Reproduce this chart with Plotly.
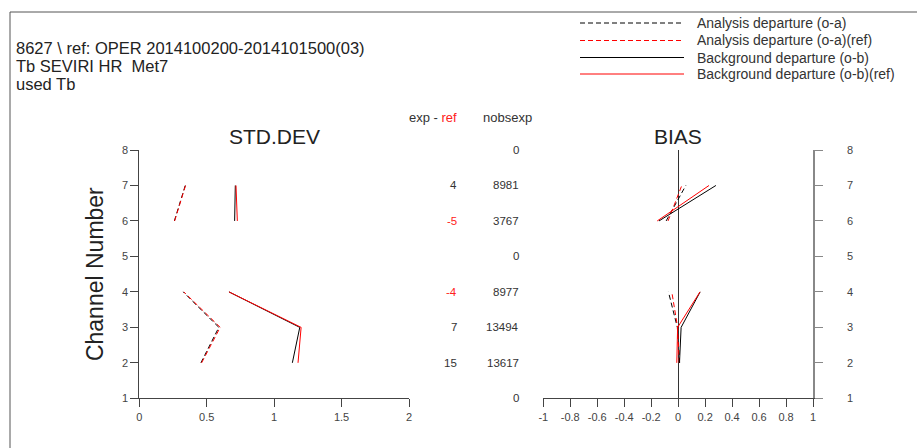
import plotly.graph_objects as go

W, H = 917, 448

channels = [2, 3, 4, 5, 6, 7]
std_oa = [0.457, 0.59, 0.326, None, 0.26, 0.341]
std_oa_ref = [0.462, 0.60, 0.33, None, 0.262, 0.343]
std_ob = [1.135, 1.19, 0.665, None, 0.707, 0.712]
std_ob_ref = [1.177, 1.20, 0.665, None, 0.727, 0.717]

bias_oa = [0.011, -0.006, -0.072, None, -0.089, 0.057]
bias_oa_ref = [0.008, -0.004, -0.047, None, -0.075, 0.027]
bias_ob = [0.010, 0.022, 0.163, None, -0.142, 0.28]
bias_ob_ref = [-0.010, -0.004, 0.162, None, -0.155, 0.229]

nob_channels = [8, 7, 6, 5, 4, 3, 2, 1]
nobsexp = ["0", "8981", "3767", "0", "8977", "13494", "13617", "0"]
diff_channels = [7, 6, 4, 3, 2]
exp_minus_ref = [4, -5, -4, 7, 15]

std_ticks = [0, 0.5, 1, 1.5, 2]
std_ticktext = ["0", "0.5", "1", "1.5", "2"]
bias_ticks = [-1, -0.8, -0.6, -0.4, -0.2, 0, 0.2, 0.4, 0.6, 0.8, 1]
bias_ticktext = ["-1", "-0.8", "-0.6", "-0.4", "-0.2", "0", "0.2", "0.4", "0.6", "0.8", "1"]
y_ticks = [1, 2, 3, 4, 5, 6, 7, 8]

legend_names = ["Analysis departure (o-a)", "Analysis departure (o-a)(ref)",
                "Background departure (o-b)", "Background departure (o-b)(ref)"]
legend_colors = ["black", "#ff0000", "black", "#ff0000"]
legend_dash = ["5px,3px", "5px,3px", "solid", "solid"]

FONT = "Liberation Sans, Arial, sans-serif"
AX = "#444444"

def px(x):
    return x / W

def py(y):
    return 1 - y / H

fig = go.Figure()

series = [
    (std_oa, bias_oa, 0),
    (std_oa_ref, bias_oa_ref, 1),
    (std_ob, bias_ob, 2),
    (std_ob_ref, bias_ob_ref, 3),
]
for sd, bi, k in series:
    line = dict(color=legend_colors[k], width=1, dash=legend_dash[k])
    fig.add_trace(go.Scatter(x=sd, y=channels, mode="lines", line=line,
                             name=legend_names[k], showlegend=False,
                             connectgaps=False, xaxis="x", yaxis="y"))
    fig.add_trace(go.Scatter(x=bi, y=channels, mode="lines", line=line,
                             name=legend_names[k], showlegend=False,
                             connectgaps=False, xaxis="x2", yaxis="y2"))

ydom = [py(398.3), py(150)]
common_x = dict(showline=True, linecolor=AX, linewidth=1, ticks="outside", ticklen=8,
                tickcolor=AX, showgrid=False, automargin=False,
                tickfont=dict(size=11, color=AX, family=FONT))
common_y = dict(showline=True, linecolor=AX, linewidth=1, ticks="outside", ticklen=8,
                tickcolor=AX, showgrid=False, zeroline=False, range=[1, 8],
                tickvals=y_ticks, domain=ydom, automargin=False,
                tickfont=dict(size=11, color=AX, family=FONT))

fig.update_layout(
    width=W, height=H, margin=dict(l=0, r=0, t=0, b=0, autoexpand=False),
    paper_bgcolor="white", plot_bgcolor="white", showlegend=False,
    font=dict(family=FONT),
    xaxis=dict(domain=[px(139.3), px(409)], range=[0, 2], tickvals=std_ticks,
               ticktext=std_ticktext, zeroline=False, anchor="y", **common_x),
    yaxis=dict(anchor="x",
               title=dict(text="Channel Number", font=dict(size=23, color="#222", family=FONT),
                          standoff=11),
               **common_y),
    xaxis2=dict(domain=[px(543.3), px(813)], range=[-1, 1], tickvals=bias_ticks,
                ticktext=bias_ticktext, zeroline=True, zerolinecolor="#333",
                zerolinewidth=1, anchor="y2", **common_x),
    yaxis2=dict(anchor="x2", side="right", ticklabelstandoff=22,
                **{**common_y, "linecolor": "#888888", "linewidth": 1.5, "tickcolor": "#888888"}),
)

ann = []
# header text
head = ["8627 \\ ref: OPER 2014100200-2014101500(03)", "Tb SEVIRI HR  Met7", "used Tb"]
for i, t in enumerate(head):
    ann.append(dict(text=t, x=px(14), y=py(48 + 18 * i), xref="paper", yref="paper",
                    xanchor="left", yanchor="middle", showarrow=False,
                    font=dict(size=16.5, color="#222", family=FONT)))
# subplot titles
ann.append(dict(text="STD.DEV", x=px(274), y=py(136), xref="paper", yref="paper",
                xanchor="center", yanchor="middle", showarrow=False,
                font=dict(size=21, color="#222", family=FONT)))
ann.append(dict(text="BIAS", x=px(678), y=py(136), xref="paper", yref="paper",
                xanchor="center", yanchor="middle", showarrow=False,
                font=dict(size=21, color="#222", family=FONT)))
# column headers
ann.append(dict(text="exp - <span style='color:#ff2020'>ref</span>", x=px(407), y=py(117),
                xref="paper", yref="paper", xanchor="left", yanchor="middle", showarrow=False,
                font=dict(size=13, color="#333", family=FONT)))
ann.append(dict(text="nobsexp", x=px(481), y=py(117), xref="paper", yref="paper",
                xanchor="left", yanchor="middle", showarrow=False,
                font=dict(size=13, color="#333", family=FONT)))
for ch, n in zip(nob_channels, nobsexp):
    ann.append(dict(text=n, x=px(521), y=ch, xref="paper", yref="y", xanchor="right",
                    yanchor="middle", showarrow=False, font=dict(size=11.5, color="#333", family=FONT)))
for ch, d in zip(diff_channels, exp_minus_ref):
    col = "#ff2020" if d < 0 else "#333"
    ann.append(dict(text=str(d), x=px(459), y=ch, xref="paper", yref="y", xanchor="right",
                    yanchor="middle", showarrow=False, font=dict(size=11.5, color=col, family=FONT)))

shapes = []
# outer frame
shapes.append(dict(type="line", xref="paper", yref="paper", x0=px(10), x1=1.0,
                   y0=py(12), y1=py(12), line=dict(color="#555", width=1)))
shapes.append(dict(type="line", xref="paper", yref="paper", x0=px(10), x1=px(10),
                   y0=py(12), y1=0, line=dict(color="#555", width=1)))
# custom legend
leg_y = [23, 40.5, 57.5, 74]
for k, name in enumerate(legend_names):
    shapes.append(dict(type="line", xref="paper", yref="paper", x0=px(580), x1=px(684),
                       y0=py(leg_y[k]), y1=py(leg_y[k]),
                       line=dict(color=legend_colors[k], width=1, dash=legend_dash[k])))
    ann.append(dict(text=name, x=px(695), y=py(leg_y[k]), xref="paper", yref="paper",
                    xanchor="left", yanchor="middle", showarrow=False,
                    font=dict(size=14, color="#333", family=FONT)))

fig.update_layout(annotations=ann, shapes=shapes)
fig.write_html("out.html")
